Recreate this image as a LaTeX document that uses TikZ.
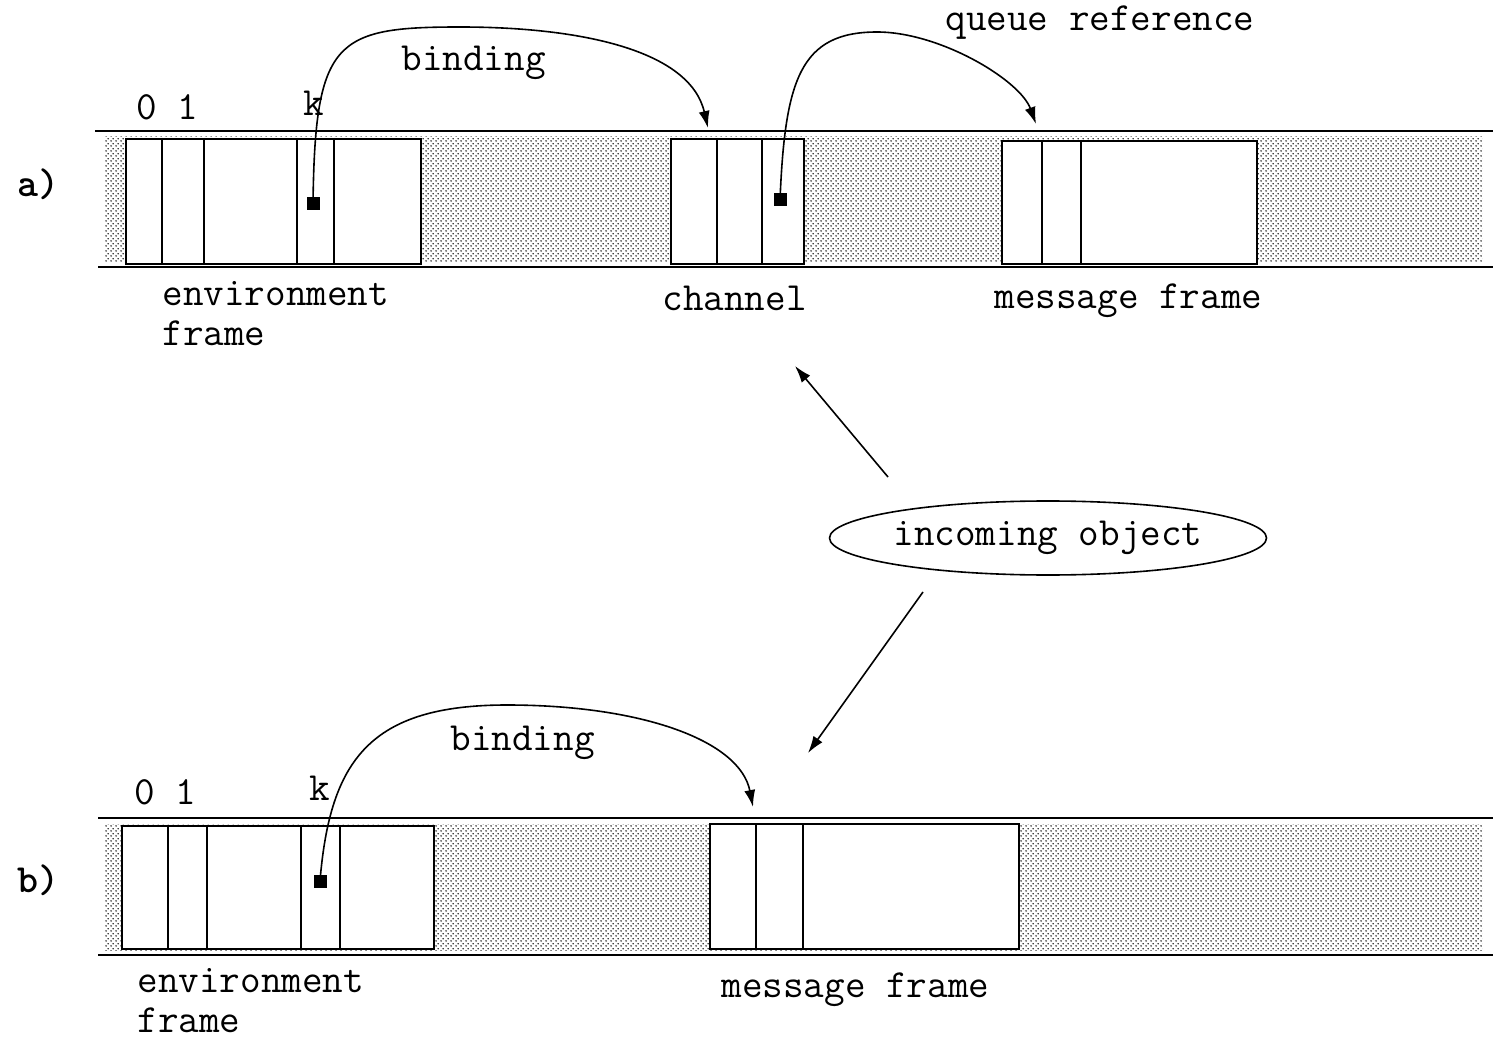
\documentclass[tikz,border=0pt]{standalone}
\usepackage{fontspec}
\usetikzlibrary{arrows.meta,patterns.meta,shapes.geometric}

% fine staggered dot screen used for the free heap area
\tikzdeclarepattern{
  name=heapdots,
  type=uncolored,
  bottom left={(0pt,0pt)},
  top right={(2.5pt,2.5pt)},
  tile size={(2.5pt,2.5pt)},
  code={
    \fill (0.625pt,0.625pt) circle (0.46pt);
    \fill (1.875pt,1.875pt) circle (0.46pt);
  }
}

\tikzset{
  heap/.style={pattern=heapdots, pattern color=black},
  bandline/.style={line width=1pt},
  frm/.style={draw, line width=1pt, fill=white, rectangle, inner sep=0pt, anchor=north west},
  slot/.style={line width=1pt},
  ptr/.style={fill=black, draw=none, rectangle, minimum size=6.5pt, inner sep=0pt},
  lbl/.style={anchor=base west, inner sep=0pt},
  twoline/.style={anchor=south west, inner sep=0pt, align=left,
                  font=\fontsize{20}{#1}\selectfont\ttfamily},
  tag/.style={lbl, font=\fontsize{20}{22}\selectfont\ttfamily\bfseries},
  ref/.style={line width=0.8pt, -{Latex[length=8.5pt,width=5.5pt]}},
  obj/.style={draw, ellipse, line width=0.8pt, minimum width=202pt, minimum height=37pt, inner sep=0pt}
}

\begin{document}
\begin{tikzpicture}[x=0.5pt,y=-0.5pt,font=\fontsize{20}{22}\selectfont\ttfamily]
\useasboundingbox (0,0) rectangle (1493,1037);

% ---------------- part a) ----------------
\fill[heap] (105,137) rectangle (1482,263);
\draw[bandline] (95,131) -- (1493,131);
\draw[bandline] (98,267) -- (1493,267);

\node[frm, minimum width=147.5pt, minimum height=62.5pt] (envA) at (125,138) {};
\foreach \x in {162,204,297,334} \draw[slot] (\x,138) -- (\x,263);
\node[ptr] (kA) at (313,204) {};

\node[frm, minimum width=66.5pt, minimum height=62.5pt] (chan) at (670,138) {};
\foreach \x in {717,762} \draw[slot] (\x,138) -- (\x,263);
\node[ptr] (qA) at (780,200) {};

\node[frm, minimum width=127.5pt, minimum height=61.5pt] (msgA) at (1001,140) {};
\foreach \x in {1042,1081} \draw[slot] (\x,140) -- (\x,263);

\coordinate (chanTop) at (708,128);
\coordinate (msgATop) at (1036,124);
\draw[ref] (kA.center) .. controls (315,40) and (335,27) .. (460,27)
                       .. controls (580,27) and (690,50) .. (chanTop);
\draw[ref] (qA.center) .. controls (785,80) and (800,32) .. (877,32)
                       .. controls (940,32) and (1020,80) .. (msgATop);

\node[tag] (la) at (17,197) {a)};
\node[lbl] (idxA) at (136,120) {0 1};
\node[lbl] (kLblA) at (303,116) {k};
\node[lbl] (bindA) at (401,71) {binding};
\node[lbl] (queue) at (945,31) {queue reference};
\node[twoline=20pt] (envLblA) at (162,346) {environment\\frame};
\node[lbl] (chanLbl) at (662,311) {channel};
\node[lbl] (msgLblA) at (994,309) {message frame};

% ---------------- incoming object ----------------
\node[obj] (inc) at (1048,538) {incoming object};
\coordinate (upStart) at (888,477);
\coordinate (upEnd) at (795,366);
\coordinate (dnStart) at (923,592);
\coordinate (dnEnd) at (808,753);
\draw[ref] (upStart) -- (upEnd);
\draw[ref] (dnStart) -- (dnEnd);

% ---------------- part b) ----------------
\fill[heap] (105,824) rectangle (1482,950);
\draw[bandline] (98,818) -- (1493,818);
\draw[bandline] (98,955) -- (1493,955);

\node[frm, minimum width=156pt, minimum height=61.5pt] (envB) at (121,825) {};
\foreach \x in {168,207,301,340} \draw[slot] (\x,825) -- (\x,948);
\node[ptr] (kB) at (320,881) {};

\node[frm, minimum width=154.5pt, minimum height=62.5pt] (msgB) at (709,823) {};
\foreach \x in {756,803} \draw[slot] (\x,823) -- (\x,948);

\coordinate (msgBTop) at (753,807);
\draw[ref] (kB.center) .. controls (330,760) and (370,705) .. (507,705)
                       .. controls (640,705) and (740,740) .. (msgBTop);

\node[tag] (lb) at (17,892) {b)};
\node[lbl] (idxB) at (134,804) {0 1};
\node[lbl] (kLblB) at (309,800) {k};
\node[lbl] (bindB) at (450,750) {binding};
\node[twoline=20pt] (envLblB) at (137,1033) {environment\\frame};
\node[lbl] (msgLblB) at (721,997) {message frame};
\end{tikzpicture}
\end{document}
